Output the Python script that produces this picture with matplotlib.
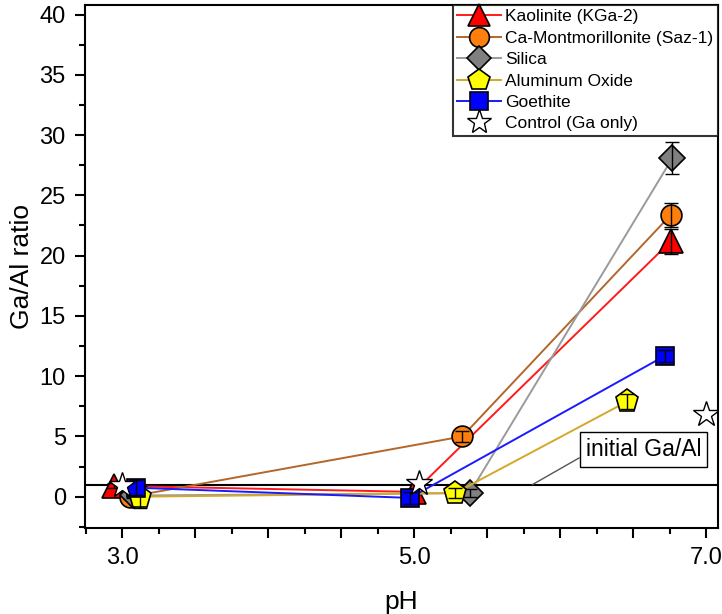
import numpy as np
import matplotlib
matplotlib.use("Agg")
import matplotlib.pyplot as plt
from matplotlib.ticker import MultipleLocator, FuncFormatter

plt.rcParams['font.family'] = ['Liberation Sans', 'DejaVu Sans']

# pH / Ga:Al ratio for each sorbent (three pH steps)
kaol_ph = [2.94, 5.00, 6.76]
kaol_ratio = [0.9, 0.4, 21.2]
kaol_err = [0.2, 0.2, 1.05]

mont_ph = [3.05, 5.33, 6.76]
mont_ratio = [0.0, 5.0, 23.4]
mont_err = [0.2, 0.45, 1.0]

silica_ph = [3.07, 5.38, 6.77]
silica_ratio = [0.1, 0.3, 28.1]
silica_err = [0.2, 0.3, 1.35]

alox_ph = [3.12, 5.28, 6.46]
alox_ratio = [0.0, 0.3, 7.9]
alox_err = [0.9, 0.4, 0.6]

goeth_ph = [3.09, 4.97, 6.72]
goeth_ratio = [0.75, -0.1, 11.7]
goeth_err = [0.6, 0.5, 0.5]

ctrl_ph = [3.0, 5.03, 7.0]
ctrl_ratio = [1.0, 1.1, 6.9]

initial_ratio = 1.0

series = [
    ("Kaolinite (KGa-2)", kaol_ph, kaol_ratio, kaol_err, '^', '#ff0000', '#ff1a1a', 17),
    ("Ca-Montmorillonite (Saz-1)", mont_ph, mont_ratio, mont_err, 'o', '#ff7f0e', '#b3672b', 15),
    ("Silica", silica_ph, silica_ratio, silica_err, 'D', '#808080', '#9a9a9a', 13),
    ("Aluminum Oxide", alox_ph, alox_ratio, alox_err, 'p', '#ffff00', '#d4a82a', 17),
    ("Goethite", goeth_ph, goeth_ratio, goeth_err, 's', '#0000ff', '#1a1aff', 13),
]

fig = plt.figure(figsize=(7.22, 6.14), dpi=100)
ax = fig.add_axes([0.118, 0.14, 0.876, 0.852])

ax.axhline(initial_ratio, color='black', lw=1.5, zorder=1)

z = 2
for label, ph, ratio, err, mk, fc, lc, ms in series:
    ax.plot(ph, ratio, color=lc, lw=1.4, marker=mk, markersize=ms,
            markerfacecolor=fc, markeredgecolor='black', markeredgewidth=1.2,
            label=label, zorder=z)
    ax.errorbar(ph, ratio, yerr=err, fmt='none', ecolor='black', elinewidth=1.0,
                capsize=5, capthick=1.0, zorder=z + 0.5)
    z += 1

ax.plot(ctrl_ph, ctrl_ratio, linestyle='none', marker='*', markersize=19,
        markerfacecolor='white', markeredgecolor='black', markeredgewidth=1.0,
        label="Control (Ga only)", zorder=z)

ax.annotate("initial Ga/Al", xy=(5.81, initial_ratio), xytext=(6.57, 3.9),
            fontsize=16.5, ha='center', va='center',
            bbox=dict(boxstyle='square,pad=0.25', fc='white', ec='black', lw=1.0),
            arrowprops=dict(arrowstyle='-', color='#555555', lw=1.0,
                            shrinkA=0, shrinkB=0, relpos=(0.0, 0.3)),
            zorder=20)

ax.set_xlim(2.745, 7.08)
ax.set_ylim(-2.6, 40.8)

ax.xaxis.set_major_locator(MultipleLocator(0.5))
ax.xaxis.set_minor_locator(MultipleLocator(0.25))
ax.xaxis.set_major_formatter(FuncFormatter(
    lambda v, p: f"{v:.1f}" if abs(v - round(v)) < 1e-6 and int(round(v)) % 2 == 1 else ""))
ax.yaxis.set_major_locator(MultipleLocator(5))
ax.yaxis.set_minor_locator(MultipleLocator(2.5))

ax.tick_params(axis='both', which='major', direction='out', length=7, width=1.5,
               labelsize=17, colors='black')
ax.tick_params(axis='both', which='minor', direction='out', length=4, width=1.5)
ax.tick_params(axis='x', which='major', pad=7)
ax.tick_params(axis='y', which='major', pad=7)

for s in ax.spines.values():
    s.set_linewidth(1.5)

ax.set_xlabel("pH", fontsize=19, labelpad=15)
ax.set_ylabel("Ga/Al ratio", fontsize=19, labelpad=4)

leg = ax.legend(loc='upper right', borderaxespad=0, fontsize=12.5, frameon=True,
                fancybox=False, handlelength=2.5, handletextpad=0.25,
                labelspacing=0.36, borderpad=0.25, markerscale=0.95)
leg.get_frame().set_edgecolor('black')
leg.get_frame().set_linewidth(1.5)
leg.set_zorder(30)

fig.savefig("out.png", dpi=100)
